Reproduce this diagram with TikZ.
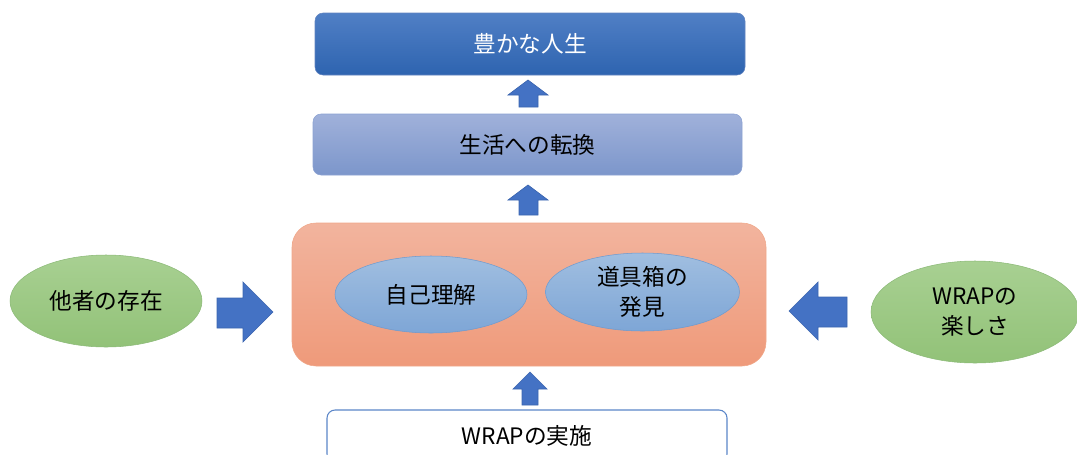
\documentclass[tikz,border=0pt]{standalone}
\usepackage{fontspec}
\setmainfont{Noto Sans CJK JP}
\usetikzlibrary{shapes.geometric}
\definecolor{arrowblue}{HTML}{4472C4}
\definecolor{arrowedge}{HTML}{3B65B0}
\tikzset{
  lbl/.style={font=\fontsize{17}{22}\selectfont, align=center, text=black},
  box/.style={draw, rounded corners=6pt, lbl},
  oval/.style={draw, ellipse, lbl, inner sep=0pt},
  blockarrow/.style={fill=arrowblue, draw=arrowedge, line width=0.5pt},
}
\begin{document}
\begin{tikzpicture}[x=0.75pt, y=-0.75pt]
\useasboundingbox (0,0) rectangle (1077,454);
% boxes
\node[box, draw=arrowedge!80, top color={rgb,255:red,80;green,127;blue,197}, bottom color={rgb,255:red,46;green,100;blue,176}, text=white, minimum width=322.5pt, minimum height=46.5pt] (top) at (530,44) {豊かな人生};
\node[box, draw={rgb,255:red,140;green,162;blue,210}, top color={rgb,255:red,160;green,177;blue,218}, bottom color={rgb,255:red,124;green,150;blue,203}, minimum width=321.75pt, minimum height=45.75pt] (mid) at (527.5,144.5) {生活への転換};
\node[draw={rgb,255:red,240;green,168;blue,138}, rounded corners=18pt, top color={rgb,255:red,242;green,180;blue,158}, bottom color={rgb,255:red,239;green,154;blue,122}, minimum width=355.5pt, minimum height=107.25pt] (core) at (529,294.5) {};
\node[box, draw={rgb,255:red,91;green,134;blue,200}, fill=white, line width=0.8pt, minimum width=300pt, minimum height=39pt] (wrap) at (527,436) {WRAPの実施};
% inner ellipses
\node[oval, draw={rgb,255:red,110;green,155;blue,208}, top color={rgb,255:red,160;green,190;blue,224}, bottom color={rgb,255:red,126;green,166;blue,214}, minimum width=144pt, minimum height=57.75pt] (self) at (431,294.5) {自己理解};
\node[oval, draw={rgb,255:red,110;green,155;blue,208}, top color={rgb,255:red,160;green,190;blue,224}, bottom color={rgb,255:red,126;green,166;blue,214}, minimum width=145.5pt, minimum height=58.5pt] (tool) at (642.5,292) {道具箱の\\発見};
% side ellipses
\node[oval, draw={rgb,255:red,140;green,186;blue,120}, top color={rgb,255:red,168;green,208;blue,146}, bottom color={rgb,255:red,146;green,194;blue,120}, minimum width=144pt, minimum height=69pt] (others) at (106,301) {他者の存在};
\node[oval, draw={rgb,255:red,140;green,186;blue,120}, top color={rgb,255:red,168;green,208;blue,146}, bottom color={rgb,255:red,146;green,194;blue,120}, minimum width=156pt, minimum height=76.5pt] (fun) at (975,312) {WRAPの\\楽しさ};
% block arrows
\draw[blockarrow] (519,107) -- (519,95) -- (508,95) -- (528,80) -- (548,95) -- (538,95) -- (538,107) -- cycle;
\draw[blockarrow] (519,215) -- (519,200) -- (508,200) -- (528,185) -- (548,200) -- (538,200) -- (538,215) -- cycle;
\draw[blockarrow] (522,405) -- (522,389) -- (513,389) -- (530,372) -- (547,389) -- (538,389) -- (538,405) -- cycle;
\draw[blockarrow] (217,298) -- (243,298) -- (243,282) -- (273,312) -- (243,342) -- (243,328) -- (217,328) -- cycle;
\draw[blockarrow] (847,297) -- (818,297) -- (818,282) -- (789,311) -- (818,340) -- (818,327) -- (847,327) -- cycle;
\end{tikzpicture}
\end{document}
